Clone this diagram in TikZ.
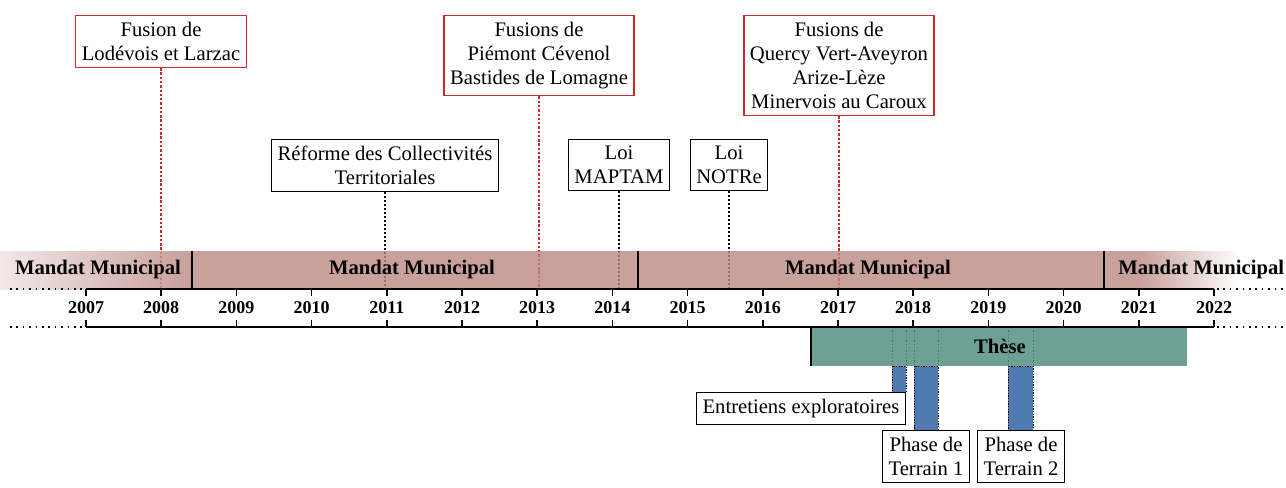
\documentclass[tikz,border=0pt]{standalone}
\usepackage{fontspec}
\setmainfont{Liberation Serif}
\usepackage{xcolor}
\usetikzlibrary{positioning}

\definecolor{mandatcol}{RGB}{186,136,131}
\definecolor{thesecol}{RGB}{111,160,149}
\definecolor{thesedark}{RGB}{60,120,110}
\definecolor{terraincol}{RGB}{79,123,176}
\definecolor{fusioncol}{RGB}{205,40,45}

\tikzset{
  eventbox/.style={
    rectangle,
    draw,
    line width=0.9pt,
    fill=white,
    align=center,
    inner xsep=4.5pt,
    inner ysep=5pt,
    font=\fontsize{15.5}{18}\selectfont
  },
  fusionbox/.style={eventbox, draw=fusioncol, line width=1pt},
  loibox/.style={eventbox, draw=black},
  fusionline/.style={fusioncol, line width=2pt, dash pattern=on 1.8pt off 1.4pt},
  loiline/.style={black, line width=0.9pt, dash pattern=on 1pt off 2pt},
  axisline/.style={black, line width=1.2pt},
  axisdots/.style={black, line width=1.2pt, dash pattern=on 1.2pt off 3.6pt},
  yearlabel/.style={font=\fontsize{13.5}{15}\selectfont\bfseries},
  mandatlabel/.style={font=\fontsize{15.5}{18}\selectfont\bfseries}
}

\begin{document}
\begin{tikzpicture}[x=0.75pt, y=-0.75pt]
\useasboundingbox (0,0) rectangle (1286,487);

% fusions
\node [fusionbox, anchor=north] (lodeve) at (161,15) {Fusion de\\Lodévois et Larzac};
\node [fusionbox, anchor=north] (piemont) at (539,15) {Fusions de\\Piémont Cévenol\\Bastides de Lomagne};
\node [fusionbox, anchor=north] (quercy) at (839,15) {Fusions de\\Quercy Vert-Aveyron\\Arize-Lèze\\Minervois au Caroux};
% lois
\node [loibox, anchor=north] (reforme) at (385,139) {Réforme des Collectivités\\Territoriales};
\node [loibox, anchor=north] (maptam) at (619,139) {Loi\\MAPTAM};
\node [loibox, anchor=north] (notre) at (729,139) {Loi\\NOTRe};

\coordinate (axis-top) at (0,289);
\draw [fusionline] (lodeve) -- (lodeve |- axis-top);
\draw [fusionline] (piemont) -- (piemont |- axis-top);
\draw [fusionline] (quercy) -- (quercy |- axis-top);
\draw [loiline] (reforme) -- (reforme |- axis-top);
\draw [loiline] (maptam) -- (maptam |- axis-top);
\draw [loiline] (notre) -- (notre |- axis-top);

% mandats
\shade [left color=white, right color=mandatcol, fill opacity=0.8] (-60,251) rectangle (190,289);
\fill [mandatcol, fill opacity=0.8] (190,251) rectangle (1140,289);
\shade [left color=mandatcol, right color=white, fill opacity=0.8] (1140,251) rectangle (1240,289);
\foreach \x in {192,638,1104}
  \draw [line width=1pt] (\x,251) -- (\x,289);
\node [mandatlabel] (mandat-1) at (98,270) {Mandat Municipal};
\node [mandatlabel] (mandat-2) at (412,270) {Mandat Municipal};
\node [mandatlabel] (mandat-3) at (868,270) {Mandat Municipal};
\node [mandatlabel, anchor=west, inner xsep=0pt] (mandat-4) at (1118,270) {Mandat Municipal};

% these
\fill [thesecol] (811,327) rectangle (1187,366);
\draw [line width=1.2pt] (811,327) -- (811,366);
\node [mandatlabel] (these) at (1000,346) {Thèse};
\foreach \x in {892,906,914,938,1008,1033}
  \draw [thesedark, line width=0.6pt, dash pattern=on 1pt off 1.5pt] (\x,327) -- (\x,366);

% terrain
\node [loibox, anchor=north east] (entretiens) at (906,392) {Entretiens exploratoires};
\node [loibox, anchor=north west] (terrain-1) at (882,430) {Phase de\\Terrain 1};
\node [loibox, anchor=north west] (terrain-2) at (977,430) {Phase de\\Terrain 2};
\filldraw [fill=terraincol, draw=black, line width=0.7pt, dash pattern=on 1pt off 1pt] (892,366) rectangle (906,392);
\filldraw [fill=terraincol, draw=black, line width=0.7pt, dash pattern=on 1pt off 1pt] (914,366) rectangle (938,430);
\filldraw [fill=terraincol, draw=black, line width=0.7pt, dash pattern=on 1pt off 1pt] (1008,366) rectangle (1033,430);

% axe
\draw [axisline] (86,289) -- (1214,289);
\draw [axisline] (86,327) -- (1214,327);
\draw [axisdots] (10,289) -- (84,289);
\draw [axisdots] (10,327) -- (84,327);
\draw [axisdots] (1217,289) -- (1286,289);
\draw [axisdots] (1217,327) -- (1286,327);
\foreach \y in {2007,...,2022} {
  \pgfmathsetmacro\xx{86+(\y-2007)*75.2}
  \draw [axisline] (\xx,289) -- (\xx,296);
  \draw [axisline] (\xx,327) -- (\xx,320);
  \node [yearlabel] (year-\y) at (\xx,308) {\y};
}
\end{tikzpicture}
\end{document}
